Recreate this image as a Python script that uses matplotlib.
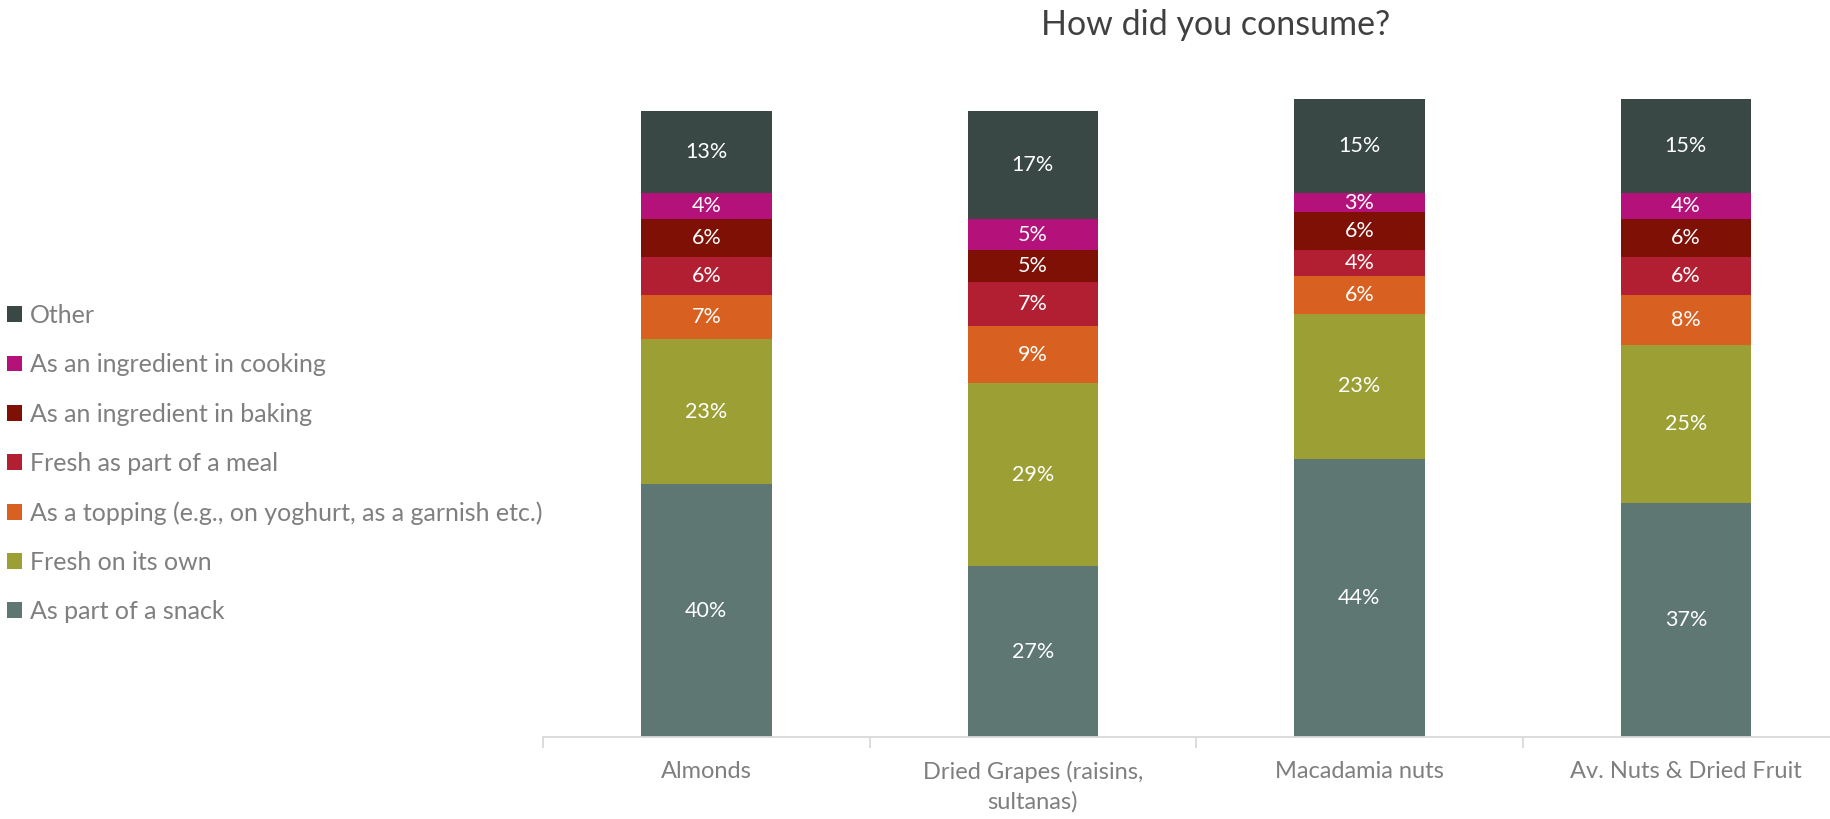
import numpy as np
import matplotlib
matplotlib.use("Agg")
import matplotlib.pyplot as plt
from matplotlib.patches import Patch

plt.rcParams["font.family"] = ["Lato", "DejaVu Sans"]

# ── data ──────────────────────────────────────────────────────────────────────
products = ["Almonds", "Dried Grapes (raisins,\nsultanas)", "Macadamia nuts",
            "Av. Nuts & Dried Fruit"]

uses = ["As part of a snack", "Fresh on its own",
        "As a topping (e.g., on yoghurt, as a garnish etc.)",
        "Fresh as part of a meal", "As an ingredient in baking",
        "As an ingredient in cooking", "Other"]

snack   = [40, 27, 44, 37]
own     = [23, 29, 23, 25]
topping = [7, 9, 6, 8]
meal    = [6, 7, 4, 6]
baking  = [6, 5, 6, 6]
cooking = [4, 5, 3, 4]
other   = [13, 17, 15, 15]

colors = ["#5E7773", "#9CA034", "#D86020", "#B31F32",
          "#7E1006", "#B5117A", "#3A4845"]

series = [snack, own, topping, meal, baking, cooking, other]

# ── figure ────────────────────────────────────────────────────────────────────
fig = plt.figure(figsize=(18.31, 8.19), dpi=100)
ax = fig.add_axes([0.2966, 0.1001, 0.7133, 0.7794])

x = np.arange(len(products))
bottom = np.zeros(len(products))
for vals, col, name in zip(series, colors, uses):
    vals = np.array(vals, dtype=float)
    ax.bar(x, vals, width=0.4, bottom=bottom, color=col, label=name,
           edgecolor="none")
    for xi, b, v in zip(x, bottom, vals):
        ax.text(xi, b + v / 2, f"{v:.0f}%", ha="center", va="center",
                color="white", fontsize=15.5)
    bottom += vals

ax.set_xlim(-0.5, 3.5)
ax.set_ylim(0, 101)
ax.set_yticks([])
for side in ["left", "right", "top"]:
    ax.spines[side].set_visible(False)
ax.spines["bottom"].set_color("#D9D9D9")
ax.spines["bottom"].set_linewidth(1.3)

# labels at centres, tick marks at category boundaries
ax.set_xticks(x)
ax.set_xticklabels(products, fontsize=17, color="#7F7F7F", linespacing=1.45)
ax.tick_params(axis="x", which="major", length=0, pad=17)
ax.set_xticks(np.arange(-0.5, 4.0, 1.0), minor=True)
ax.tick_params(axis="x", which="minor", length=8, color="#D9D9D9", width=1.3)

fig.text(0.664, 0.970, "How did you consume?", ha="center", va="center",
         fontsize=24.5, color="#404040")

handles = [Patch(facecolor=c, edgecolor="none") for c in colors][::-1]
fig.legend(handles, uses[::-1], loc="center left",
           bbox_to_anchor=(0.0, 0.434), frameon=False, fontsize=18,
           labelcolor="#7F7F7F", handlelength=0.6, handleheight=0.6,
           handletextpad=0.3, labelspacing=1.05, borderaxespad=0.0,
           borderpad=0.3)

fig.savefig("out.png", dpi=100)
